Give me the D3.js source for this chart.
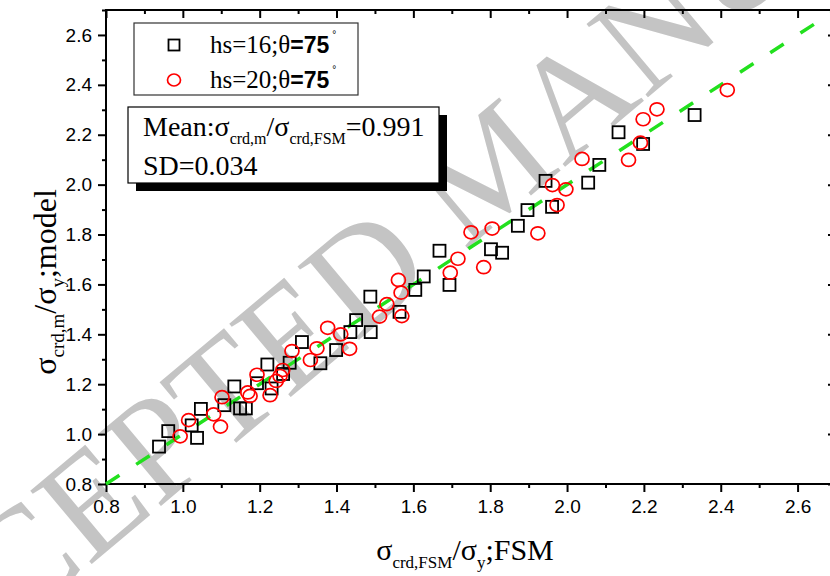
<!DOCTYPE html>
<html>
<head>
<meta charset="utf-8">
<script src="https://cdn.jsdelivr.net/npm/d3@7"></script>
<style>
  body { margin: 0; background: #fff; }
  svg { display: block; }
  .tick text { font-family: "Liberation Sans", Arial, sans-serif; font-size: 19px; fill: #000; }
  .serif { font-family: "Liberation Serif", "Times New Roman", serif; }
</style>
</head>
<body>
<div id="chart"></div>
<script>
// hs=16, theta=75 (squares): [FSM, model]
const seriesHs16 = [
  [0.938, 0.950], [0.962, 1.012], [1.023, 1.035], [1.037, 0.985], [1.047, 1.101],
  [1.108, 1.116], [1.134, 1.191], [1.149, 1.103], [1.164, 1.103], [1.193, 1.204],
  [1.220, 1.279], [1.231, 1.183], [1.261, 1.241], [1.278, 1.286], [1.310, 1.369],
  [1.358, 1.284], [1.399, 1.337], [1.436, 1.409], [1.451, 1.457], [1.489, 1.409],
  [1.488, 1.551], [1.564, 1.490], [1.605, 1.578], [1.627, 1.632], [1.668, 1.735],
  [1.694, 1.598], [1.802, 1.741], [1.831, 1.727], [1.872, 1.835], [1.897, 1.898],
  [1.944, 2.015], [1.961, 1.911], [2.055, 2.008], [2.084, 2.079], [2.134, 2.210],
  [2.198, 2.163], [2.332, 2.279]
];
// hs=20, theta=75 (circles)
const seriesHs20 = [
  [0.993, 0.991], [1.015, 1.056], [1.080, 1.079], [1.098, 1.030], [1.102, 1.148],
  [1.169, 1.167], [1.175, 1.153], [1.193, 1.238], [1.227, 1.156], [1.243, 1.213],
  [1.253, 1.233], [1.260, 1.257], [1.284, 1.333], [1.332, 1.297], [1.349, 1.344],
  [1.377, 1.426], [1.411, 1.400], [1.434, 1.342], [1.512, 1.471], [1.531, 1.521],
  [1.561, 1.618], [1.568, 1.567], [1.570, 1.473], [1.696, 1.647], [1.716, 1.703],
  [1.750, 1.809], [1.783, 1.669], [1.805, 1.824], [1.924, 1.805], [1.962, 1.998],
  [1.974, 1.918], [1.997, 1.981], [2.039, 2.103], [2.160, 2.099], [2.191, 2.168],
  [2.198, 2.262], [2.234, 2.302], [2.417, 2.379]
];
const majorTicks = [0.8, 1.0, 1.2, 1.4, 1.6, 1.8, 2.0, 2.2, 2.4, 2.6];
const minorTicks = [0.9, 1.1, 1.3, 1.5, 1.7, 1.9, 2.1, 2.3, 2.5, 2.7];
const fitLine = [[0.8, 0.8], [2.7, 2.7]];
const meanRatio = "0.991";
const sdRatio = "0.034";

const width = 830, height = 576;
const margin = { left: 106, top: 10, right: -6, bottom: 92 };

const x = d3.scaleLinear().domain([0.8, 2.7]).range([margin.left, width - margin.right]);
const y = d3.scaleLinear().domain([0.8, 2.7]).range([height - margin.bottom, margin.top]);

const svg = d3.select('#chart').append('svg')
  .attr('width', width)
  .attr('height', height);

// watermark behind everything
svg.append('text')
  .attr('class', 'serif')
  .attr('transform', 'translate(522,203) rotate(-40)')
  .attr('text-anchor', 'middle')
  .style('font-size', '146px')
  .style('fill', '#c4c4c4')
  .text('ACCEPTED MANUSCRIPT');

const fmt = d3.format('.1f');

function addAxis(axisFn, scale, pos, size, labels, pad) {
  const g = svg.append('g').attr('transform', pos);
  g.call(axisFn(scale).tickValues(majorTicks).tickSize(size).tickPadding(pad || 4)
    .tickFormat(labels ? fmt : ''));
  g.append('g').call(axisFn(scale).tickValues(minorTicks).tickSize(size / 2).tickFormat(''));
  g.selectAll('.domain').remove();
  g.selectAll('line').attr('stroke', '#000').attr('stroke-width', 2);
  return g;
}

const plotBottom = height - margin.bottom, plotTop = margin.top;
const plotLeft = margin.left, plotRight = width - margin.right;

addAxis(d3.axisBottom, x, `translate(0,${plotBottom})`, 8, true, 8);
addAxis(d3.axisLeft, y, `translate(${plotLeft},0)`, 8, true, 6);
addAxis(d3.axisBottom, x, `translate(0,${plotTop})`, 8, false); // mirrored, points inward
addAxis(d3.axisRight, y, `translate(${plotRight},0)`, -8, false);

svg.selectAll('.tick text').attr('fill', '#000');

// frame
svg.append('rect')
  .attr('x', plotLeft).attr('y', plotTop)
  .attr('width', plotRight - plotLeft).attr('height', plotBottom - plotTop)
  .attr('fill', 'none').attr('stroke', '#000').attr('stroke-width', 2);

// y = x reference line
svg.append('line')
  .attr('x1', x(fitLine[0][0])).attr('y1', y(fitLine[0][1]))
  .attr('x2', x(fitLine[1][0])).attr('y2', y(fitLine[1][1]))
  .attr('stroke', '#22e01e').attr('stroke-width', 3.5)
  .attr('stroke-dasharray', '16,20');

const sq = 12;
svg.append('g').selectAll('rect')
  .data(seriesHs16).enter().append('rect')
  .attr('x', d => x(d[0]) - sq / 2)
  .attr('y', d => y(d[1]) - sq / 2)
  .attr('width', sq).attr('height', sq)
  .attr('fill', 'none').attr('stroke', '#000').attr('stroke-width', 1.8);

svg.append('g').selectAll('ellipse')
  .data(seriesHs20).enter().append('ellipse')
  .attr('cx', d => x(d[0]))
  .attr('cy', d => y(d[1]))
  .attr('rx', 7).attr('ry', 6.5)
  .attr('fill', 'none').attr('stroke', '#f00').attr('stroke-width', 1.7);

// legend
const legend = svg.append('g');
legend.append('rect')
  .attr('x', 134).attr('y', 23).attr('width', 224).attr('height', 72)
  .attr('fill', '#fff').attr('stroke', '#333').attr('stroke-width', 1.2);
legend.append('rect')
  .attr('x', 174 - 5.5).attr('y', 45 - 5.5).attr('width', 11).attr('height', 11)
  .attr('fill', 'none').attr('stroke', '#000').attr('stroke-width', 1.8);
legend.append('ellipse')
  .attr('cx', 174).attr('cy', 80).attr('rx', 6.5).attr('ry', 6)
  .attr('fill', 'none').attr('stroke', '#f00').attr('stroke-width', 1.7);

[['16', 53], ['20', 88]].forEach(([hs, by]) => {
  const t = legend.append('text').attr('x', 210).attr('y', by);
  t.append('tspan').attr('class', 'serif').style('font-size', '25px').text(`hs=${hs};θ`);
  t.append('tspan').style('font-family', '"Liberation Sans", Arial, sans-serif')
    .style('font-weight', 'bold').style('font-size', '23px').text('=75');
  t.append('tspan').style('font-family', '"Liberation Sans", Arial, sans-serif')
    .style('font-size', '10px').attr('dx', 3).attr('dy', -15).text('°');
});

// stats box with drop shadow
const stats = svg.append('g');
stats.append('rect')
  .attr('x', 136).attr('y', 115).attr('width', 311).attr('height', 76)
  .attr('fill', '#000');
stats.append('rect')
  .attr('x', 128).attr('y', 107).attr('width', 311).attr('height', 76)
  .attr('fill', '#fff').attr('stroke', '#000').attr('stroke-width', 1.2);

const m = stats.append('text').attr('class', 'serif').attr('x', 143).attr('y', 136)
  .style('font-size', '28px');
m.append('tspan').text('Mean:σ');
m.append('tspan').attr('dy', 8).style('font-size', '16px').text('crd,m');
m.append('tspan').attr('dy', -8).text('/σ');
m.append('tspan').attr('dy', 8).style('font-size', '16px').text('crd,FSM');
m.append('tspan').attr('dy', -8).text('=' + meanRatio);

stats.append('text').attr('class', 'serif').attr('x', 143).attr('y', 175)
  .style('font-size', '28px').text('SD=' + sdRatio);

// axis titles
const xt = svg.append('text').attr('class', 'serif')
  .attr('x', 465).attr('y', 560)
  .attr('text-anchor', 'middle').style('font-size', '30px');
xt.append('tspan').text('σ');
xt.append('tspan').attr('dy', 8).style('font-size', '17px').text('crd,FSM');
xt.append('tspan').attr('dy', -8).text('/σ');
xt.append('tspan').attr('dy', 8).style('font-size', '17px').text('y');
xt.append('tspan').attr('dy', -8).text(';FSM');

const yt = svg.append('text').attr('class', 'serif')
  .attr('transform', 'translate(56,282) rotate(-90)')
  .attr('text-anchor', 'middle').style('font-size', '32px');
yt.append('tspan').text('σ');
yt.append('tspan').attr('dy', 8).style('font-size', '19px').text('crd,m');
yt.append('tspan').attr('dy', -8).text('/σ');
yt.append('tspan').attr('dy', 8).style('font-size', '19px').text('y');
yt.append('tspan').attr('dy', -8).text(';model');
</script>
</body>
</html>
